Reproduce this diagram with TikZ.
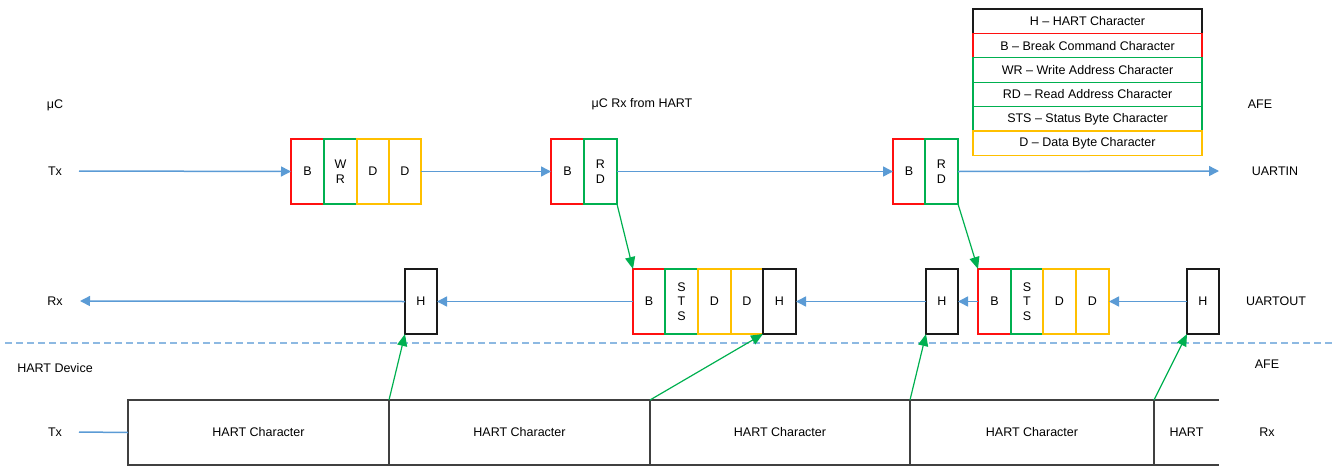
\documentclass[tikz,border=0pt]{standalone}
\usepackage{fontspec}
\setmainfont{Liberation Sans}
\usetikzlibrary{arrows.meta}
\definecolor{cblue}{HTML}{5B9BD5}
\definecolor{cdash}{HTML}{8DB9E2}
\definecolor{cred}{HTML}{FF1010}
\definecolor{cgreen}{HTML}{00B050}
\definecolor{cyellow}{HTML}{FFC000}
\definecolor{cdark}{HTML}{1A1A1A}
\definecolor{cgray}{HTML}{404040}
\begin{document}
\begin{tikzpicture}[x=1pt,y=-1pt,
  font=\fontsize{12.5}{14.5}\selectfont,
  cell/.style={draw, line width=1.05pt, minimum height=65pt, minimum width=#1,
    inner sep=0pt, outer sep=0pt, anchor=north west, align=center},
  rcell/.style={cell=#1, draw=cred},
  gcell/.style={cell=#1, draw=cgreen},
  ycell/.style={cell=#1, draw=cyellow},
  kcell/.style={cell=#1, draw=cdark},
  hcell/.style={cell=#1, draw=cgray, minimum height=65pt},
  lg/.style={draw, line width=1.05pt, minimum width=229pt, minimum height=24.4pt,
    inner sep=0pt, outer sep=0pt, anchor=north west},
  lbl/.style={inner sep=0pt},
  barrow/.style={draw=cblue, line width=1.5pt, -{Triangle[length=10pt,width=10pt]}},
  garrow/.style={draw=cgreen, line width=1.2pt, -{Triangle[length=12pt,width=10pt]}},
]
\useasboundingbox (0,0) rectangle (1339,466);

% legend
\node[lg, draw=cdark] (l1) at (973,9) {H – HART Character};
\node[lg, draw=cred] (l2) at (973,33.4) {B – Break Command Character};
\node[lg, draw=cgreen] (l3) at (973,57.8) {WR – Write Address Character};
\node[lg, draw=cgreen] (l4) at (973,82.2) {RD – Read Address Character};
\node[lg, draw=cgreen] (l5) at (973,106.6) {STS – Status Byte Character};
\node[lg, draw=cyellow] (l6) at (973,131) {D – Data Byte Character};

% labels
\node[lbl] (muc) at (55,105) {μC};
\node[lbl] (mucrx) at (642,104) {μC Rx from HART};
\node[lbl] (afe1) at (1260,104) {AFE};
\node[lbl] (tx1) at (55,171.5) {Tx};
\node[lbl] (uartin) at (1275,171.5) {UARTIN};
\node[lbl] (rx1) at (55,301.5) {Rx};
\node[lbl] (uartout) at (1276,301.5) {UARTOUT};
\node[lbl] (hdev) at (55,368.5) {HART Device};
\node[lbl] (afe2) at (1267,364) {AFE};
\node[lbl] (tx2) at (55,432) {Tx};
\node[lbl] (rx2) at (1267,432) {Rx};

% Tx row
\node[rcell=33pt] (b1) at (291,139) {B};
\node[gcell=33pt] (wr1) at (324,139) {W\\R};
\node[ycell=32pt] (d1) at (357,139) {D};
\node[ycell=32pt] (d2) at (389,139) {D};
\node[rcell=33pt] (b2) at (551,139) {B};
\node[gcell=33pt] (rd2) at (584,139) {R\\D};
\node[rcell=32pt] (b3) at (893,139) {B};
\node[gcell=33pt] (rd3) at (925,139) {R\\D};

% Rx row
\node[kcell=32pt] (h1) at (405,269) {H};
\node[rcell=32pt] (b4) at (633,269) {B};
\node[gcell=33pt] (s4) at (665,269) {S\\T\\S};
\node[ycell=33pt] (d4a) at (698,269) {D};
\node[ycell=32pt] (d4b) at (731,269) {D};
\node[kcell=33pt] (h2) at (763,269) {H};
\node[kcell=32pt] (h3) at (926,269) {H};
\node[rcell=33pt] (b5) at (978,269) {B};
\node[gcell=32pt] (s5) at (1011,269) {S\\T\\S};
\node[ycell=33pt] (d5a) at (1043,269) {D};
\node[ycell=33pt] (d5b) at (1076,269) {D};
\node[kcell=32pt] (h4) at (1187,269) {H};

% HART characters
\node[hcell=261pt] (c1) at (128,400) {HART Character};
\node[hcell=261pt] (c2) at (389,400) {HART Character};
\node[hcell=260pt] (c3) at (650,400) {HART Character};
\node[hcell=244pt] (c4) at (910,400) {HART Character};
\node[cell=65pt, draw=none] (c5) at (1154,400) {HART};
\draw[cgray, line width=1.05pt] (c5.north west) -- (c5.north east);
\draw[cgray, line width=1.05pt] (c5.south west) -- (c5.south east);

% dashed separator
\coordinate (dl) at (5,343);
\coordinate (dr) at (1335,343);
\draw[cdash, line width=1.5pt, dash pattern=on 7pt off 4pt] (dl) -- (dr);

% blue connectors
\coordinate (txs) at (79,171);
\coordinate (rxe) at (80,301);
\coordinate (uin) at (1219,171);
\coordinate (tx2s) at (79,432);
\draw[barrow] (txs) -- (b1.west);
\draw[barrow] (d2.east) -- (b2.west);
\draw[barrow] (rd2.east) -- (b3.west);
\draw[barrow] (rd3.east) -- (uin);
\draw[barrow] (h4.west) -- (d5b.east);
\draw[barrow] (b5.west) -- (h3.east);
\draw[barrow] (h3.west) -- (h2.east);
\draw[barrow] (b4.west) -- (h1.east);
\draw[barrow] (h1.west) -- (rxe);
\draw[cblue, line width=1.5pt] (tx2s) -- (c1.west);

% green connectors
\draw[garrow] (rd2.south east) -- (b4.north west);
\draw[garrow] (rd3.south east) -- (b5.north west);
\draw[garrow] (c1.north east) -- (h1.south west);
\draw[garrow] (c2.north east) -- (h2.south west);
\draw[garrow] (c3.north east) -- (h3.south west);
\draw[garrow] (c4.north east) -- (h4.south west);
\end{tikzpicture}
\end{document}
